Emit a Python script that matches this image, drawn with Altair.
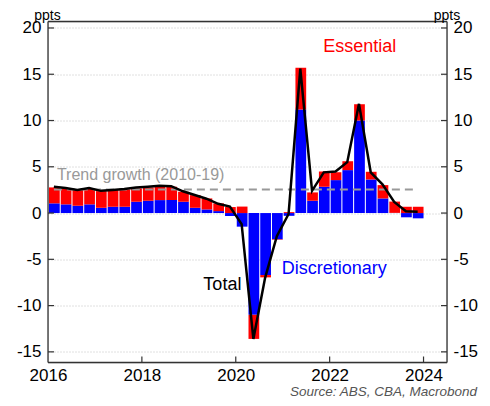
import altair as alt
import pandas as pd

# ---- data ----
quarters = [f"{y}Q{q}" for y in range(2016, 2024) for q in range(1, 5)]

essential = [1.72, 1.72, 1.69, 1.72, 1.80, 1.80, 1.87, 1.44,
             1.44, 1.51, 1.44, 1.08, 1.37, 1.19, 0.83, 0.65,
             0.70, -2.60, -0.25, -0.05, 0.10, 4.50, 0.90, 1.65,
             0.85, 0.96, 1.76, 0.83, 1.44, 1.22, 0.68, 0.68]

discretionary = [1.05, 0.94, 0.79, 0.94, 0.57, 0.68, 0.68, 1.22,
                 1.33, 1.40, 1.40, 1.22, 0.57, 0.39, 0.21, -0.32,
                 -1.47, -11.00, -6.70, -2.84, -0.30, 11.20, 1.33, 2.84,
                 3.56, 4.64, 10.00, 3.63, 1.58, 0.02, -0.46, -0.57]

total = [2.85, 2.70, 2.50, 2.70, 2.40, 2.50, 2.60, 2.75,
         2.85, 2.95, 2.90, 2.35, 1.95, 1.55, 1.00, 0.70,
         -1.20, -13.60, -7.00, -2.50, -0.10, 15.60, 2.40, 4.40,
         4.50, 5.50, 11.80, 4.40, 3.10, 1.20, 0.20, 0.15]

trend_growth = 2.55
y_ticks = [-15, -10, -5, 0, 5, 10, 15, 20]
x_ticks = [2016, 2018, 2020, 2022, 2024]
x_dom = [2016, 2024.5]
y_dom = [-16.15, 20.70]

ann_text = ["Essential", "Discretionary", "Total", "Trend growth (2010-19)"]
ann_x = [2022.64, 2020.98, 2020.12, 2016.19]
ann_y = [17.4, -6.6, -8.3, 3.6]
ann_color = ["#FF0000", "#0000FF", "#000000", "#999999"]
ann_align = ["center", "left", "right", "left"]
ann_size = [18, 18, 18, 16]

# ---- tables ----
def q_start(label):
    return int(label[:4]) + (int(label[-1]) - 1) / 4

rows = []
for i, qlab in enumerate(quarters):
    s = q_start(qlab)
    rows.append({"start": s, "end": s + 0.25, "component": "Discretionary",
                 "value": discretionary[i], "ord": 0})
    rows.append({"start": s, "end": s + 0.25, "component": "Essential",
                 "value": essential[i], "ord": 1})
bar_df = pd.DataFrame(rows)

line_df = pd.DataFrame({"mid": [q_start(q) + 0.125 for q in quarters], "total": total})
trend_df = pd.DataFrame({"x0": [q_start(quarters[0]) + 0.125],
                         "x1": [q_start(quarters[-1]) + 0.125],
                         "y": [trend_growth]})

W, H = 399, 341
xlen = 6 * (x_dom[1] - x_dom[0]) / W   # tick length in data units (~6px)
ylen = 6 * (y_dom[1] - y_dom[0]) / H

ytick_df = pd.DataFrame({"v": y_ticks, "l0": x_dom[0], "l1": x_dom[0] + xlen,
                         "r0": x_dom[1] - xlen, "r1": x_dom[1]})
xtick_df = pd.DataFrame({"v": x_ticks[1:], "b0": y_dom[0], "b1": y_dom[0] + ylen})
frame_df = pd.DataFrame({"x0": [x_dom[0], x_dom[1], x_dom[0], x_dom[0]],
                         "x1": [x_dom[0], x_dom[1], x_dom[1], x_dom[1]],
                         "y0": [y_dom[0], y_dom[0], y_dom[0], y_dom[1]],
                         "y1": [y_dom[1], y_dom[1], y_dom[0], y_dom[1]]})

xscale = alt.Scale(domain=x_dom, nice=False, zero=False)
yscale = alt.Scale(domain=y_dom, nice=False, zero=False)
label_expr = "datum.value + ''"
FONT = "Liberation Sans"
FRAME = "#333333"

bars = alt.Chart(bar_df).mark_bar(binSpacing=1).encode(
    x=alt.X("start:Q", bin="binned", scale=xscale, title=None,
            axis=alt.Axis(values=x_ticks, labelExpr=label_expr, ticks=False, domain=False,
                          grid=False, labelFontSize=17, labelColor="black",
                          labelPadding=5, labelFlush=False, labelFont=FONT)),
    x2="end:Q",
    y=alt.Y("value:Q", stack="zero", scale=yscale, title=None,
            axis=alt.Axis(values=y_ticks, labelExpr=label_expr, ticks=False, domain=False,
                          grid=True, gridDash=[1, 2], gridColor="#b0b0b0", gridWidth=0.8,
                          labelFontSize=17, labelColor="black", labelPadding=7,
                          labelFont=FONT)),
    color=alt.Color("component:N", legend=None,
                    scale=alt.Scale(domain=["Discretionary", "Essential"],
                                    range=["#0000FF", "#FF0000"])),
    order=alt.Order("ord:Q"),
)

trend = alt.Chart(trend_df).mark_rule(color="#999999", strokeWidth=2, strokeDash=[8, 5]).encode(
    x=alt.X("x0:Q", scale=xscale, title=None),
    x2="x1:Q",
    y=alt.Y("y:Q", scale=yscale, title=None),
)

line = alt.Chart(line_df).mark_line(color="black", strokeWidth=2.5).encode(
    x=alt.X("mid:Q", scale=xscale, title=None),
    y=alt.Y("total:Q", scale=yscale, title=None),
)

ann_layers = []
for t, xv, yv, c, a, s in zip(ann_text, ann_x, ann_y, ann_color, ann_align, ann_size):
    d = pd.DataFrame({"t": [t], "x": [xv], "y": [yv]})
    ann_layers.append(
        alt.Chart(d).mark_text(color=c, align=a, baseline="alphabetic", fontSize=s, font=FONT).encode(
            x=alt.X("x:Q", scale=xscale, title=None),
            y=alt.Y("y:Q", scale=yscale, title=None),
            text="t:N",
        )
    )

left_ticks = alt.Chart(ytick_df).mark_rule(color=FRAME, strokeWidth=1.2).encode(
    y=alt.Y("v:Q", scale=yscale, title=None),
    x=alt.X("l0:Q", scale=xscale, title=None), x2="l1:Q",
)
right_ticks = alt.Chart(ytick_df).mark_rule(color=FRAME, strokeWidth=1.2).encode(
    y=alt.Y("v:Q", scale=yscale, title=None),
    x=alt.X("r0:Q", scale=xscale, title=None), x2="r1:Q",
)
bottom_ticks = alt.Chart(xtick_df).mark_rule(color=FRAME, strokeWidth=1.2).encode(
    x=alt.X("v:Q", scale=xscale, title=None),
    y=alt.Y("b0:Q", scale=yscale, title=None), y2="b1:Q",
)
frame = alt.Chart(frame_df).mark_rule(color=FRAME, strokeWidth=1.3).encode(
    x=alt.X("x0:Q", scale=xscale, title=None), x2="x1:Q",
    y=alt.Y("y0:Q", scale=yscale, title=None), y2="y1:Q",
)

ppts_df = pd.DataFrame({"t": ["ppts"]})
ppts_left = alt.Chart(ppts_df).mark_text(align="center", baseline="alphabetic", fontSize=14,
                                          font=FONT, color="black").encode(
    x=alt.value(-0.5), y=alt.value(-2), text="t:N")
ppts_right = alt.Chart(ppts_df).mark_text(align="center", baseline="alphabetic", fontSize=14,
                                           font=FONT, color="black").encode(
    x=alt.value(W), y=alt.value(-2), text="t:N")

src_df = pd.DataFrame({"t": ["Source: ABS, CBA, Macrobond"]})
source = alt.Chart(src_df).mark_text(align="right", baseline="alphabetic", fontSize=13.5,
                                     fontStyle="italic", font=FONT, color="#555555").encode(
    x=alt.value(429), y=alt.value(374.5), text="t:N")

left_group = alt.layer(bars, trend, line, *ann_layers, left_ticks, right_ticks, bottom_ticks,
                       frame, ppts_left, ppts_right, source)

right_axis = alt.Chart(ytick_df).mark_point(opacity=0).encode(
    y=alt.Y("v:Q", scale=yscale, title=None,
            axis=alt.Axis(orient="right", values=y_ticks, labelExpr=label_expr, ticks=False,
                          domain=False, grid=False, labelFontSize=17, labelColor="black",
                          labelPadding=6, labelFont=FONT)),
    x=alt.X("r1:Q", scale=xscale, title=None),
)

chart = alt.layer(left_group, right_axis).resolve_scale(y="independent").properties(
    width=W, height=H,
    autosize=alt.AutoSizeParams(type="none"),
    padding={"left": 40, "top": 13.5, "right": 35, "bottom": 35.5},
).configure(background="white")

chart.save("out.html", embed_options={"renderer": "svg", "actions": False})
